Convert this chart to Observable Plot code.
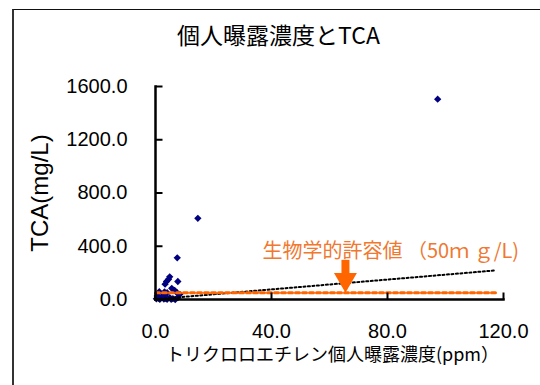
<!DOCTYPE html>
<html><head><meta charset="utf-8">
<script src="https://cdn.jsdelivr.net/npm/d3@7"></script>
<script src="https://cdn.jsdelivr.net/npm/@observablehq/plot@0.6"></script>
<style>
body{margin:0;background:#fff;overflow:hidden}
#wrap{position:relative;width:540px;height:385px;overflow:hidden;background:#fff}
#border{position:absolute;left:12px;top:9px;width:600px;height:500px;border-left:2px solid #333;border-top:1px solid #111;}
#chart{position:absolute;left:0;top:0}
</style></head><body>
<div id="wrap"><div id="border"></div><div id="chart"></div></div>
<script>
// TCE personal exposure (ppm) and urinary TCA (mg/L)
const exposure = [97.3, 14.6, 7.5, 4.9, 4.5, 3.8, 3.3, 7.7, 5.6, 6.6, 7.5, 8.4, 1.3, 3.1, 4.0, 0.6, 2.0, 2.9, 4.0, 5.4, 6.8, 2.4, 3.6, 4.9, 1.5, 7.7, 1.0, 3.4, 6.0, 0.3];
const tca      = [1505, 610, 313, 170, 152, 135, 115, 135, 84, 69, 49, 39, 59, 57, 51, 26, 14, 4, 2, 2, 0, 26, 19, 14, 2, 14, 8, 8, 6, 5];
// linear trend
const trendX = [0, 117.5];
const trendY = [2, 219];
// biological limit value 50 mg/L
const limitX = [0, 117.5];
const limitY = [50, 50];
const xTicks = [0, 40, 80, 120];
const yTicks = [0, 400, 800, 1200, 1600];
const titleText = "個人曝露濃度とTCA";
const xLabel = "トリクロロエチレン個人曝露濃度(ppm）";
const yLabel = "TCA(mg/L)";
const noteText = "生物学的許容値 （50ｍ ｇ/L)";
const noteX = 36.9, noteY = 359;
const arrowX = 65.5;

const W = 540, H = 385, mL = 155, mR = 37, mT = 86, mB = 86;
const xDomain = [0, 120], yDomain = [0, 1600];
const tickPx = 7;
const tickLenY = tickPx * (yDomain[1] - yDomain[0]) / (H - mT - mB);
const tickLenX = tickPx * (xDomain[1] - xDomain[0]) / (W - mL - mR);

const points = exposure.map((x, i) => ({x, y: tca[i]}));
const trend = trendX.map((x, i) => ({x, y: trendY[i]}));
const limit = limitX.map((x, i) => ({x, y: limitY[i]}));
// axis lines and inward ticks as line segments
const axisSegs = [
  {x: xDomain[0], y: yDomain[0], z: "ax"}, {x: xDomain[1], y: yDomain[0], z: "ax"},
  {x: xDomain[0], y: yDomain[0], z: "ay"}, {x: xDomain[0], y: yDomain[1], z: "ay"}
];
const tickSegs = [
  ...xTicks.flatMap(t => [{x: t, y: 0, z: "x" + t}, {x: t, y: tickLenY, z: "x" + t}]),
  ...yTicks.flatMap(t => [{x: 0, y: t, z: "y" + t}, {x: tickLenX, y: t, z: "y" + t}])
];
const arrowShaft = [{x: arrowX, y: 185}, {x: arrowX, y: 298}];
const orange = "#ff6600";
const jp = "'Noto Sans CJK JP', sans-serif";
const f1 = d3.format(".1f");

const chart = Plot.plot({
  width: W, height: H,
  marginLeft: mL, marginRight: mR, marginTop: mT, marginBottom: mB,
  style: {fontFamily: "'Liberation Sans', Arial, sans-serif", fontSize: "20px", color: "#000", background: "transparent", overflow: "visible"},
  x: {domain: xDomain},
  y: {domain: yDomain},
  marks: [
    Plot.axisX(xTicks, {tickSize: 0, tickPadding: 24, tickFormat: f1, label: null, fontSize: 20, fill: "#000"}),
    Plot.axisY(yTicks, {tickSize: 0, tickPadding: 28, tickFormat: f1, label: null, fontSize: 20, fill: "#000"}),
    Plot.dot(points, {x: "x", y: "y", symbol: "diamond2", r: 3.3, fill: "#000080", stroke: "none"}),
    Plot.line(trend, {x: "x", y: "y", stroke: "#000", strokeWidth: 2, strokeDasharray: "2,2.5"}),
    Plot.line(limit, {x: "x", y: "y", stroke: orange, strokeWidth: 3, strokeDasharray: "4,3"}),
    Plot.line(tickSegs, {x: "x", y: "y", z: "z", stroke: "#000", strokeWidth: 2, strokeLinecap: "butt"}),
    Plot.line(axisSegs, {x: "x", y: "y", z: "z", stroke: "#000", strokeWidth: 2.5, strokeLinecap: "square"}),
    Plot.line(arrowShaft, {x: "x", y: "y", stroke: orange, strokeWidth: 8, strokeLinecap: "butt"}),
    Plot.dot([arrowX], {x: d => d, y: limitY[0], symbol: "triangle", rotate: 180, r: 8.5, fill: orange, stroke: "none", dy: -13.3}),
    Plot.text([noteText], {x: noteX, y: noteY, text: d => d, textAnchor: "start", fill: "#f07830", fontSize: 20, fontFamily: jp}),
    Plot.text([titleText], {frameAnchor: "top", text: d => d, dx: -51, dy: -50, lineAnchor: "middle", fontSize: 23, fontFamily: jp, fill: "#000"}),
    Plot.text([xLabel], {frameAnchor: "bottom", text: d => d, dx: 3, dy: 56, lineAnchor: "middle", fontSize: 18, fontFamily: jp, fill: "#000"}),
    Plot.text([yLabel], {frameAnchor: "left", text: d => d, dx: -115, rotate: -90, textAnchor: "middle", lineAnchor: "middle", fontSize: 24, fill: "#000"})
  ]
});
document.getElementById("chart").appendChild(chart);
</script>
</body></html>
